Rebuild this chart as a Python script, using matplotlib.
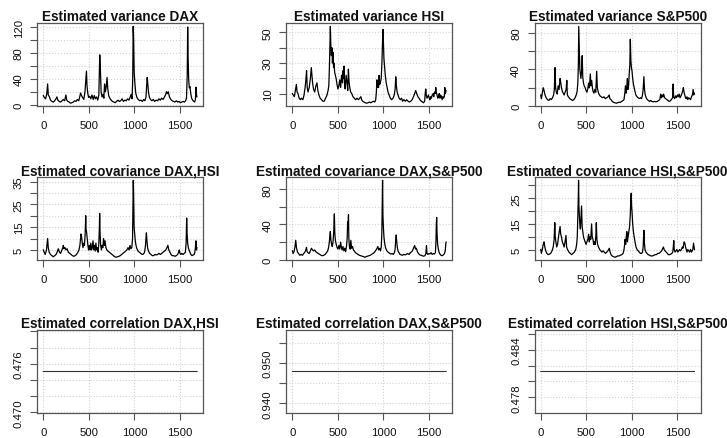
import matplotlib
matplotlib.use("Agg")
import matplotlib.pyplot as plt
import numpy as np

plt.rcParams['font.family'] = ['Liberation Sans', 'DejaVu Sans']

n_obs = 1688
x_ticks = [0, 500, 1000, 1500]

# (time index, value)
var_dax = [(1, 14), (12, 11), (25, 9), (38, 16), (48, 32), (55, 15), (68, 12), (80, 7), (95, 5), (110, 4),
           (125, 6), (140, 9), (150, 12), (160, 7), (175, 5), (190, 4), (205, 6), (220, 8), (235, 6), (248, 15),
           (258, 7), (270, 5), (285, 4), (300, 2.2), (315, 3), (330, 4), (345, 6), (360, 5), (375, 8), (390, 6),
           (400, 12), (410, 18), (420, 14), (432, 11), (445, 8), (458, 20), (466, 35), (474, 52), (480, 30),
           (488, 18), (498, 11), (510, 13), (522, 9), (535, 15), (548, 8), (560, 14), (572, 9), (585, 12),
           (598, 7), (610, 15), (620, 77), (627, 55), (635, 20), (645, 12), (656, 16), (665, 10), (673, 32),
           (682, 20), (692, 28), (700, 42), (708, 25), (718, 14), (730, 10), (745, 7), (760, 5), (775, 4),
           (790, 3), (805, 5), (820, 7), (835, 5), (850, 6), (865, 9), (880, 5), (895, 7), (910, 6), (925, 9),
           (940, 7), (955, 12), (965, 16), (975, 9), (982, 40), (987, 121), (992, 100), (998, 50), (1006, 32),
           (1015, 18), (1028, 11), (1042, 8), (1058, 6), (1072, 7), (1088, 5), (1102, 8), (1116, 6), (1128, 12),
           (1135, 30), (1141, 42), (1148, 30), (1156, 18), (1166, 11), (1178, 8), (1192, 6), (1208, 8),
           (1222, 5), (1238, 7), (1255, 6), (1270, 9), (1285, 7), (1300, 10), (1315, 8), (1330, 12), (1342, 15),
           (1352, 20), (1362, 17), (1372, 20), (1385, 12), (1400, 8), (1415, 6), (1430, 5), (1445, 4), (1460, 6),
           (1475, 4), (1490, 5), (1505, 3), (1520, 4), (1535, 5), (1550, 4), (1562, 6), (1572, 10), (1580, 45),
           (1585, 120), (1590, 72), (1596, 40), (1603, 26), (1610, 28), (1618, 18), (1628, 10), (1640, 7),
           (1652, 5), (1662, 4), (1670, 8), (1676, 27), (1680, 18), (1686, 12)]

var_hsi = [(1, 10), (10, 9), (22, 8), (33, 12), (44, 16), (52, 11), (62, 10), (75, 7), (88, 6), (100, 7),
           (115, 6), (128, 9), (140, 14), (150, 20), (156, 25), (163, 14), (172, 11), (185, 14), (198, 20),
           (208, 27), (215, 22), (222, 17), (232, 13), (245, 11), (258, 15), (270, 17), (280, 12), (292, 9),
           (305, 7), (320, 6), (335, 5), (350, 5), (365, 7), (380, 9), (392, 12), (400, 15), (408, 30), (414, 45),
           (417, 54), (422, 42), (428, 35), (434, 40), (440, 30), (446, 37), (452, 27), (458, 30), (464, 24),
           (472, 22), (480, 20), (490, 16), (500, 13), (510, 15), (520, 19), (530, 14), (540, 22), (550, 17),
           (556, 25), (562, 20), (567, 28), (573, 16), (580, 13), (590, 22), (600, 17), (608, 12), (615, 26),
           (622, 18), (630, 14), (640, 11), (652, 10), (665, 8), (680, 7), (695, 6), (710, 7), (725, 6), (740, 7),
           (752, 8), (760, 6), (772, 5), (785, 4.5), (800, 4), (815, 3.7), (830, 4), (845, 4.5), (860, 4),
           (875, 4.5), (890, 5), (905, 4.5), (915, 6), (922, 11), (928, 19), (934, 14), (940, 18), (946, 14),
           (952, 22), (958, 16), (965, 17), (975, 20), (983, 30), (990, 45), (995, 52), (1000, 42), (1005, 33),
           (1012, 28), (1020, 22), (1030, 17), (1040, 14), (1050, 11), (1062, 9), (1075, 7), (1090, 6),
           (1105, 7), (1118, 9), (1128, 13), (1135, 21), (1142, 15), (1150, 11), (1160, 9), (1172, 7), (1185, 6),
           (1198, 7), (1210, 5), (1225, 6), (1240, 5), (1255, 6), (1270, 5), (1285, 4.5), (1300, 5), (1315, 6),
           (1330, 8), (1342, 10), (1354, 12), (1365, 10), (1378, 8), (1390, 7), (1400, 6), (1415, 5),
           (1428, 4.5), (1440, 4), (1452, 5), (1458, 10), (1464, 13), (1470, 9), (1478, 7), (1486, 8), (1494, 9),
           (1502, 7), (1510, 6), (1518, 8), (1526, 7), (1535, 9), (1545, 10), (1552, 8), (1560, 11), (1568, 10),
           (1574, 14), (1580, 11), (1588, 9), (1596, 7), (1604, 8), (1612, 10), (1620, 7), (1628, 9), (1636, 8),
           (1644, 6), (1652, 8), (1660, 7), (1668, 8), (1673, 14), (1680, 10), (1686, 12)]

var_sp = [(1, 12), (8, 8), (18, 14), (28, 20), (37, 17), (48, 12), (60, 9), (75, 7), (90, 6), (105, 8),
          (118, 7), (130, 9), (142, 12), (150, 18), (158, 42), (164, 20), (172, 15), (182, 13), (192, 22),
          (202, 18), (213, 30), (220, 26), (228, 20), (238, 16), (248, 14), (258, 12), (268, 15), (280, 18),
          (287, 28), (293, 12), (305, 10), (320, 8), (335, 7), (350, 6), (365, 7), (378, 9), (390, 12), (400, 16),
          (408, 25), (414, 45), (418, 87), (424, 62), (430, 40), (436, 35), (442, 30), (449, 38), (456, 55),
          (462, 32), (470, 25), (478, 22), (488, 20), (498, 17), (508, 15), (518, 19), (526, 25), (535, 20),
          (545, 35), (552, 22), (560, 28), (568, 20), (575, 16), (585, 14), (595, 18), (605, 15), (615, 38),
          (622, 20), (630, 16), (640, 13), (652, 11), (665, 10), (680, 9), (695, 10), (710, 8), (725, 9),
          (740, 10), (752, 12), (760, 8), (772, 7), (785, 5), (800, 4), (815, 3.5), (830, 3), (845, 3.5),
          (860, 4), (875, 4), (890, 5), (905, 6), (915, 7), (925, 15), (931, 22), (937, 14), (945, 20), (952, 30),
          (958, 18), (965, 22), (972, 35), (979, 45), (984, 73), (990, 50), (996, 42), (1003, 38), (1010, 30),
          (1018, 24), (1026, 20), (1035, 16), (1045, 12), (1058, 10), (1070, 9), (1082, 8), (1095, 9),
          (1106, 8), (1116, 11), (1125, 18), (1133, 32), (1140, 18), (1148, 12), (1158, 9), (1170, 7),
          (1182, 6), (1195, 5), (1208, 6), (1220, 5), (1235, 4.5), (1250, 5), (1265, 4.5), (1280, 5), (1295, 6),
          (1308, 7), (1318, 13), (1326, 9), (1334, 12), (1342, 10), (1350, 13), (1360, 9), (1372, 8), (1385, 7),
          (1398, 6), (1410, 5), (1422, 5.5), (1435, 7), (1448, 9), (1454, 24), (1460, 10), (1470, 8), (1480, 11),
          (1490, 9), (1500, 12), (1510, 10), (1520, 13), (1530, 9), (1540, 11), (1552, 14), (1560, 17),
          (1566, 20), (1574, 15), (1582, 12), (1590, 9), (1598, 8), (1606, 10), (1615, 7), (1625, 9), (1635, 8),
          (1645, 7), (1655, 10), (1665, 12), (1674, 18), (1680, 12), (1686, 14)]

cov_dax_hsi = [(1, 5), (10, 4), (22, 3), (35, 5), (48, 10), (55, 6), (65, 4), (80, 3), (95, 2.5), (110, 2),
               (125, 2.5), (140, 3), (152, 4), (165, 5.5), (178, 4), (190, 3.5), (205, 5), (215, 6), (220, 7),
               (228, 5.5), (238, 6), (250, 5), (262, 5.5), (275, 4), (290, 3.5), (305, 3), (320, 2.5),
               (335, 2.2), (350, 2.5), (365, 3), (380, 4), (392, 5), (402, 7), (410, 10), (414, 12), (420, 11),
               (428, 8), (436, 6), (445, 8), (452, 7), (460, 12), (466, 20), (470, 14), (475, 13), (482, 10),
               (490, 7), (498, 5), (506, 7), (514, 5), (522, 8), (530, 5), (538, 6), (546, 9), (554, 5), (562, 7),
               (570, 4.5), (578, 8), (586, 5), (594, 6), (602, 4), (610, 8), (616, 15), (619, 21), (624, 12),
               (630, 7), (638, 5), (646, 7), (654, 6), (662, 10), (670, 7), (678, 9), (688, 6), (698, 5),
               (710, 4.5), (725, 4), (740, 3.5), (755, 3), (770, 2.5), (785, 2), (800, 1.8), (815, 2),
               (830, 2.2), (845, 2.5), (860, 3), (875, 3.5), (890, 4), (905, 4.5), (918, 5), (930, 6), (942, 5),
               (952, 7), (962, 5.5), (972, 6), (980, 10), (985, 25), (988, 35.5), (992, 28), (997, 15),
               (1003, 12), (1010, 9), (1018, 7), (1028, 5.5), (1040, 4.5), (1055, 4), (1070, 3.5), (1085, 3),
               (1100, 3.2), (1112, 4), (1122, 7), (1127, 10), (1132, 12.5), (1138, 9), (1145, 6), (1155, 4.5),
               (1168, 3.5), (1182, 3), (1196, 2.5), (1210, 2.5), (1225, 3), (1240, 2.8), (1255, 3), (1270, 3.5),
               (1285, 3), (1300, 3.5), (1315, 4), (1330, 4.5), (1345, 5), (1358, 6), (1368, 7), (1378, 5),
               (1390, 4), (1402, 3), (1415, 2.5), (1430, 2.5), (1445, 2.2), (1460, 2.5), (1475, 3), (1485, 4),
               (1493, 5), (1500, 3.5), (1510, 3), (1520, 3.5), (1535, 3), (1548, 3.5), (1560, 4), (1568, 8),
               (1574, 19), (1579, 12), (1585, 8), (1592, 6), (1600, 5), (1610, 4), (1620, 3), (1632, 2.5),
               (1645, 2.8), (1656, 3), (1664, 4), (1670, 6), (1676, 9), (1682, 5), (1686, 6)]

cov_dax_sp = [(1, 10), (8, 7), (18, 9), (28, 14), (37, 22), (45, 14), (55, 9), (68, 7), (82, 5), (96, 6),
              (110, 5), (125, 7), (140, 9), (150, 12), (155, 14), (162, 9), (172, 8), (185, 7), (198, 10),
              (210, 13), (221, 11), (232, 10), (245, 11), (258, 9), (270, 8), (285, 7), (300, 6), (315, 5),
              (330, 4.5), (345, 5), (360, 6), (375, 8), (388, 10), (398, 14), (406, 20), (412, 28), (417, 32),
              (423, 22), (430, 18), (438, 15), (446, 20), (453, 30), (458, 44), (461, 52), (466, 30), (472, 22),
              (480, 18), (490, 14), (500, 12), (510, 16), (520, 12), (530, 20), (538, 14), (546, 11), (555, 15),
              (565, 10), (575, 13), (585, 9), (595, 16), (602, 25), (607, 43), (612, 38), (616, 51), (620, 24),
              (627, 14), (635, 12), (642, 22), (650, 13), (660, 15), (670, 11), (680, 10), (692, 8), (705, 7),
              (720, 6), (735, 5), (750, 4.5), (765, 4), (780, 3.5), (795, 2.8), (810, 3.5), (825, 4), (840, 4.5),
              (855, 5), (870, 6), (885, 7), (898, 8), (912, 10), (925, 12), (938, 15), (948, 11), (958, 13),
              (968, 10), (976, 15), (982, 30), (987, 70), (990, 90), (994, 50), (1000, 35), (1006, 25),
              (1014, 18), (1022, 14), (1032, 11), (1045, 9), (1058, 8), (1070, 7), (1082, 6.5), (1095, 7),
              (1108, 6), (1120, 8), (1128, 12), (1134, 22), (1140, 28), (1146, 20), (1152, 14), (1160, 10),
              (1170, 8), (1182, 6), (1195, 5.5), (1208, 5), (1222, 6), (1236, 5.5), (1250, 6), (1265, 7),
              (1280, 6), (1295, 8), (1310, 9), (1322, 11), (1333, 14), (1343, 16), (1352, 12), (1362, 13),
              (1372, 9), (1385, 7), (1398, 5.5), (1412, 5), (1425, 4.5), (1440, 4), (1455, 4.5), (1465, 7),
              (1472, 16), (1478, 7), (1488, 6), (1498, 7), (1510, 6.5), (1522, 8), (1535, 6), (1548, 7),
              (1560, 6.5), (1570, 8), (1576, 20), (1580, 40), (1584, 48), (1588, 30), (1594, 18), (1602, 12),
              (1612, 8), (1622, 6), (1632, 5), (1642, 4.5), (1652, 5), (1662, 6), (1670, 7), (1678, 10),
              (1684, 18), (1688, 20)]

cov_hsi_sp = [(1, 5), (8, 3.5), (18, 5), (28, 7), (37, 8), (46, 6), (56, 4.5), (68, 3.5), (82, 3), (96, 3.2),
              (110, 3.5), (125, 4.5), (138, 6), (148, 9), (155, 15.5), (160, 10), (167, 8), (176, 6), (186, 7),
              (196, 10), (205, 12), (213, 14), (220, 11), (228, 10), (238, 8), (248, 7), (258, 6), (268, 8),
              (278, 10.5), (285, 6), (295, 5), (310, 4), (325, 3.5), (340, 3), (355, 3.5), (370, 4), (385, 5),
              (395, 7), (402, 10), (408, 18), (413, 25), (416, 32), (420, 22), (425, 18), (430, 15), (436, 13),
              (442, 17), (449, 22), (455, 14), (462, 12), (470, 10), (478, 9), (488, 8), (498, 7), (508, 8),
              (518, 9), (526, 11), (534, 8), (542, 10), (550, 9), (559, 15), (566, 10), (574, 9), (582, 7),
              (590, 8), (598, 7), (605, 10), (611, 15.5), (617, 9), (625, 7), (635, 6), (648, 5), (660, 4.5),
              (672, 4), (685, 4.5), (698, 4), (712, 3.5), (725, 4), (738, 4.5), (748, 5), (754, 5.5), (762, 4),
              (772, 3), (785, 2.5), (800, 2.2), (815, 2), (830, 2.2), (845, 2.5), (860, 2.5), (875, 2.8),
              (890, 3), (905, 3.5), (915, 5), (922, 7), (927, 9), (933, 7), (940, 10), (946, 12), (952, 8),
              (960, 10), (968, 12), (976, 14), (983, 18), (990, 25), (994, 27), (998, 22), (1004, 19),
              (1010, 15), (1018, 12), (1026, 10), (1036, 8), (1046, 6), (1058, 5), (1070, 4.5), (1082, 4),
              (1095, 3.5), (1108, 3.5), (1118, 4), (1125, 6), (1133, 12.5), (1138, 8), (1145, 5), (1155, 4),
              (1168, 3.5), (1180, 3), (1195, 2.8), (1210, 2.5), (1225, 2.5), (1240, 2.7), (1255, 3), (1270, 3),
              (1285, 3.5), (1300, 3.5), (1315, 4), (1328, 4.5), (1340, 5.5), (1347, 6), (1355, 5), (1365, 4.5),
              (1378, 4), (1390, 3.5), (1402, 3), (1415, 3), (1428, 3.2), (1440, 3.5), (1450, 4), (1456, 6),
              (1461, 8.5), (1466, 5), (1475, 4), (1485, 4.5), (1495, 5), (1505, 4), (1515, 4.5), (1525, 5),
              (1535, 4.5), (1545, 5), (1555, 6), (1562, 5.5), (1570, 7), (1575, 8), (1582, 7.5), (1590, 6),
              (1598, 5), (1606, 4), (1615, 5), (1625, 4.5), (1635, 4), (1645, 5), (1655, 4), (1663, 4.5),
              (1670, 5), (1678, 7.5), (1684, 6), (1688, 5)]

# constant correlations
corr_dax_hsi = 0.47505
corr_dax_sp = 0.94787
corr_hsi_sp = 0.48125

titles = ["Estimated variance DAX", "Estimated variance HSI", "Estimated variance S&P500",
          "Estimated covariance DAX,HSI", "Estimated covariance DAX,S&P500", "Estimated covariance HSI,S&P500",
          "Estimated correlation DAX,HSI", "Estimated correlation DAX,S&P500", "Estimated correlation HSI,S&P500"]

y_ticks = [np.arange(0, 121, 20), np.arange(10, 51, 10), np.arange(0, 81, 20),
           np.arange(5, 36, 5), np.arange(0, 81, 20), np.arange(5, 31, 5),
           np.arange(0.470, 0.4801, 0.002), np.arange(0.940, 0.9551, 0.005), np.arange(0.478, 0.4861, 0.002)]
y_labeled = [[0, 40, 80, 120], [10, 30, 50], [0, 40, 80],
             [5, 15, 25, 35], [0, 40, 80], [5, 15, 25],
             [0.470, 0.476], [0.940, 0.950], [0.478, 0.484]]

series = [var_dax, var_hsi, var_sp, cov_dax_hsi, cov_dax_sp, cov_hsi_sp]
corrs = [corr_dax_hsi, corr_dax_sp, corr_hsi_sp]

W, H = 727, 439
fig = plt.figure(figsize=(W / 100, H / 100), dpi=100)

col_left = [37.2, 286.3, 534.6]
row_top = [24.3, 178.3, 331.0]
box_w, box_h = 166, 83

frame_col = '#555555'
xlo = 1 - 0.04 * (n_obs - 1)
xhi = n_obs + 0.04 * (n_obs - 1)

for i in range(9):
    r, c = divmod(i, 3)
    ax = fig.add_axes([col_left[c] / W, 1 - (row_top[r] + box_h) / H, box_w / W, box_h / H])
    if i < 6:
        t = np.array([p[0] for p in series[i]])
        v = np.array([p[1] for p in series[i]])
        ax.plot(t, v, color='black', lw=0.9)
        rng = v.max() - v.min()
        ax.set_ylim(v.min() - 0.04 * rng, v.max() + 0.04 * rng)
        fmt = "{:g}"
    else:
        val = corrs[i - 6]
        t = np.arange(1, n_obs + 1)
        ax.plot(t, np.full(n_obs, val), color='#333333', lw=0.8)
        ax.set_ylim(val * (1 - 0.0108), val * (1 + 0.0108))
        fmt = "{:.3f}"
    ax.set_xlim(xlo, xhi)
    ax.set_xticks(x_ticks)
    ax.set_xticklabels([str(x) for x in x_ticks])
    yt = y_ticks[i]
    ax.set_yticks(yt)
    ax.set_yticklabels([fmt.format(y) if np.any(np.isclose(y, y_labeled[i])) else "" for y in yt])
    ax.grid(True, color='lightgray', linestyle=':', linewidth=0.8)
    ax.set_axisbelow(True)
    for s in ax.spines.values():
        s.set_color(frame_col)
        s.set_linewidth(0.9)
    ax.tick_params(direction='out', length=4.7, width=0.8, color=frame_col, labelsize=8.2, labelcolor='#111111')
    ax.tick_params(axis='x', pad=5.5)
    ax.tick_params(axis='y', pad=5, labelrotation=90)
    for lab in ax.get_yticklabels():
        lab.set_va('center')
    ax.set_title(titles[i], fontsize=9.8, fontweight='bold', pad=1.8, color='#111111')

fig.savefig('out.png', dpi=100)
